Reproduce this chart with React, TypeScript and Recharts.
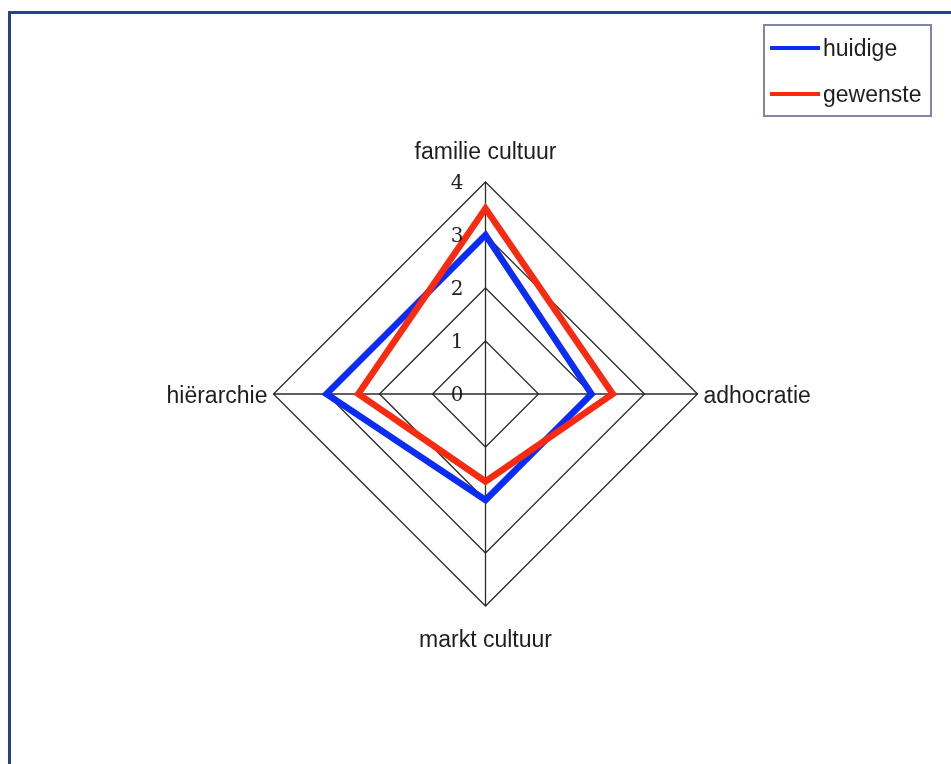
import React from 'react';
import { RadarChart, Radar, PolarGrid, PolarAngleAxis, PolarRadiusAxis, Legend } from 'recharts';

const categories = ['familie cultuur', 'adhocratie', 'markt cultuur', 'hiërarchie'];
const huidige = [3.0, 2.0, 2.0, 3.0];
const gewenste = [3.5, 2.4, 1.65, 2.4];
const radiusTicks = [0, 1, 2, 3, 4];
const seriesNames = ['huidige', 'gewenste'];
const seriesColors = ['#0a2cf5', '#fa2a10'];

const data = categories.map((c, i) => ({ cat: c, huidige: huidige[i], gewenste: gewenste[i] }));

const AngleTick = (props: any) => {
  const { x, y, payload, index } = props;
  let dx = 0, dy = 0, anchor: any = 'middle';
  if (index === 0) { dy = -15; }
  else if (index === 1) { dx = -2; dy = 9; anchor = 'start'; }
  else if (index === 2) { dy = 33; }
  else { dx = 2; dy = 9; anchor = 'end'; }
  return (
    <text x={x + dx} y={y + dy} textAnchor={anchor} fontFamily="Liberation Sans, Arial, sans-serif" fontSize={23} fill="#1e1e1e">
      {payload.value}
    </text>
  );
};

const RadiusTick = (props: any) => {
  const { x, y, payload } = props;
  return (
    <text x={x - 22} y={y} dy={7} textAnchor="end" fontFamily="DejaVu Serif, serif" fontSize={20} fill="#222">
      {payload.value}
    </text>
  );
};

const LegendBox = () => (
  <div style={{ width: 169, height: 93, boxSizing: 'border-box', border: '2px solid #8484aa', background: '#fff' }}>
    <svg width={165} height={89} style={{ display: 'block' }}>
      {seriesNames.map((n, i) => (
        <g key={n}>
          <line x1={5} x2={55} y1={22 + i * 46} y2={22 + i * 46} stroke={seriesColors[i]} strokeWidth={4} />
          <text x={58} y={30 + i * 46} fontFamily="Liberation Sans, Arial, sans-serif" fontSize={23} fill="#1e1e1e">{n}</text>
        </g>
      ))}
    </svg>
  </div>
);

export default function App() {
  return (
    <div style={{ position: 'relative', width: 935, height: 748, overflow: 'hidden', background: '#fff' }}>
      <div style={{ position: 'fixed', left: 8, top: 11, width: 1200, height: 1200, borderTop: '3px solid #24438a', borderLeft: '3px solid #24438a', pointerEvents: 'none' }} />
      <div style={{ position: 'absolute', left: 0, top: 0 }}>
        <RadarChart width={935} height={748} cx={477.5} cy={386} outerRadius={212} data={data} startAngle={90} endAngle={-270}>
          <PolarGrid gridType="polygon" stroke="#2a2a2a" strokeWidth={1.3} strokeOpacity={1} />
          <PolarAngleAxis dataKey="cat" tick={<AngleTick />} tickLine={false} axisLine={false} />
          <PolarRadiusAxis angle={90} domain={[0, 4]} ticks={radiusTicks as any} tickCount={5} axisLine={false} tick={<RadiusTick />} />
          <Radar name="huidige" dataKey="huidige" stroke={seriesColors[0]} strokeWidth={6.5} fill="none" fillOpacity={0} isAnimationActive={false} dot={false} />
          <Radar name="gewenste" dataKey="gewenste" stroke={seriesColors[1]} strokeWidth={6.5} fill="none" fillOpacity={0} isAnimationActive={false} dot={false} />
          <Legend content={<LegendBox />} wrapperStyle={{ position: 'absolute', left: 755, top: 16, width: 169, height: 93 }} />
        </RadarChart>
      </div>
    </div>
  );
}
